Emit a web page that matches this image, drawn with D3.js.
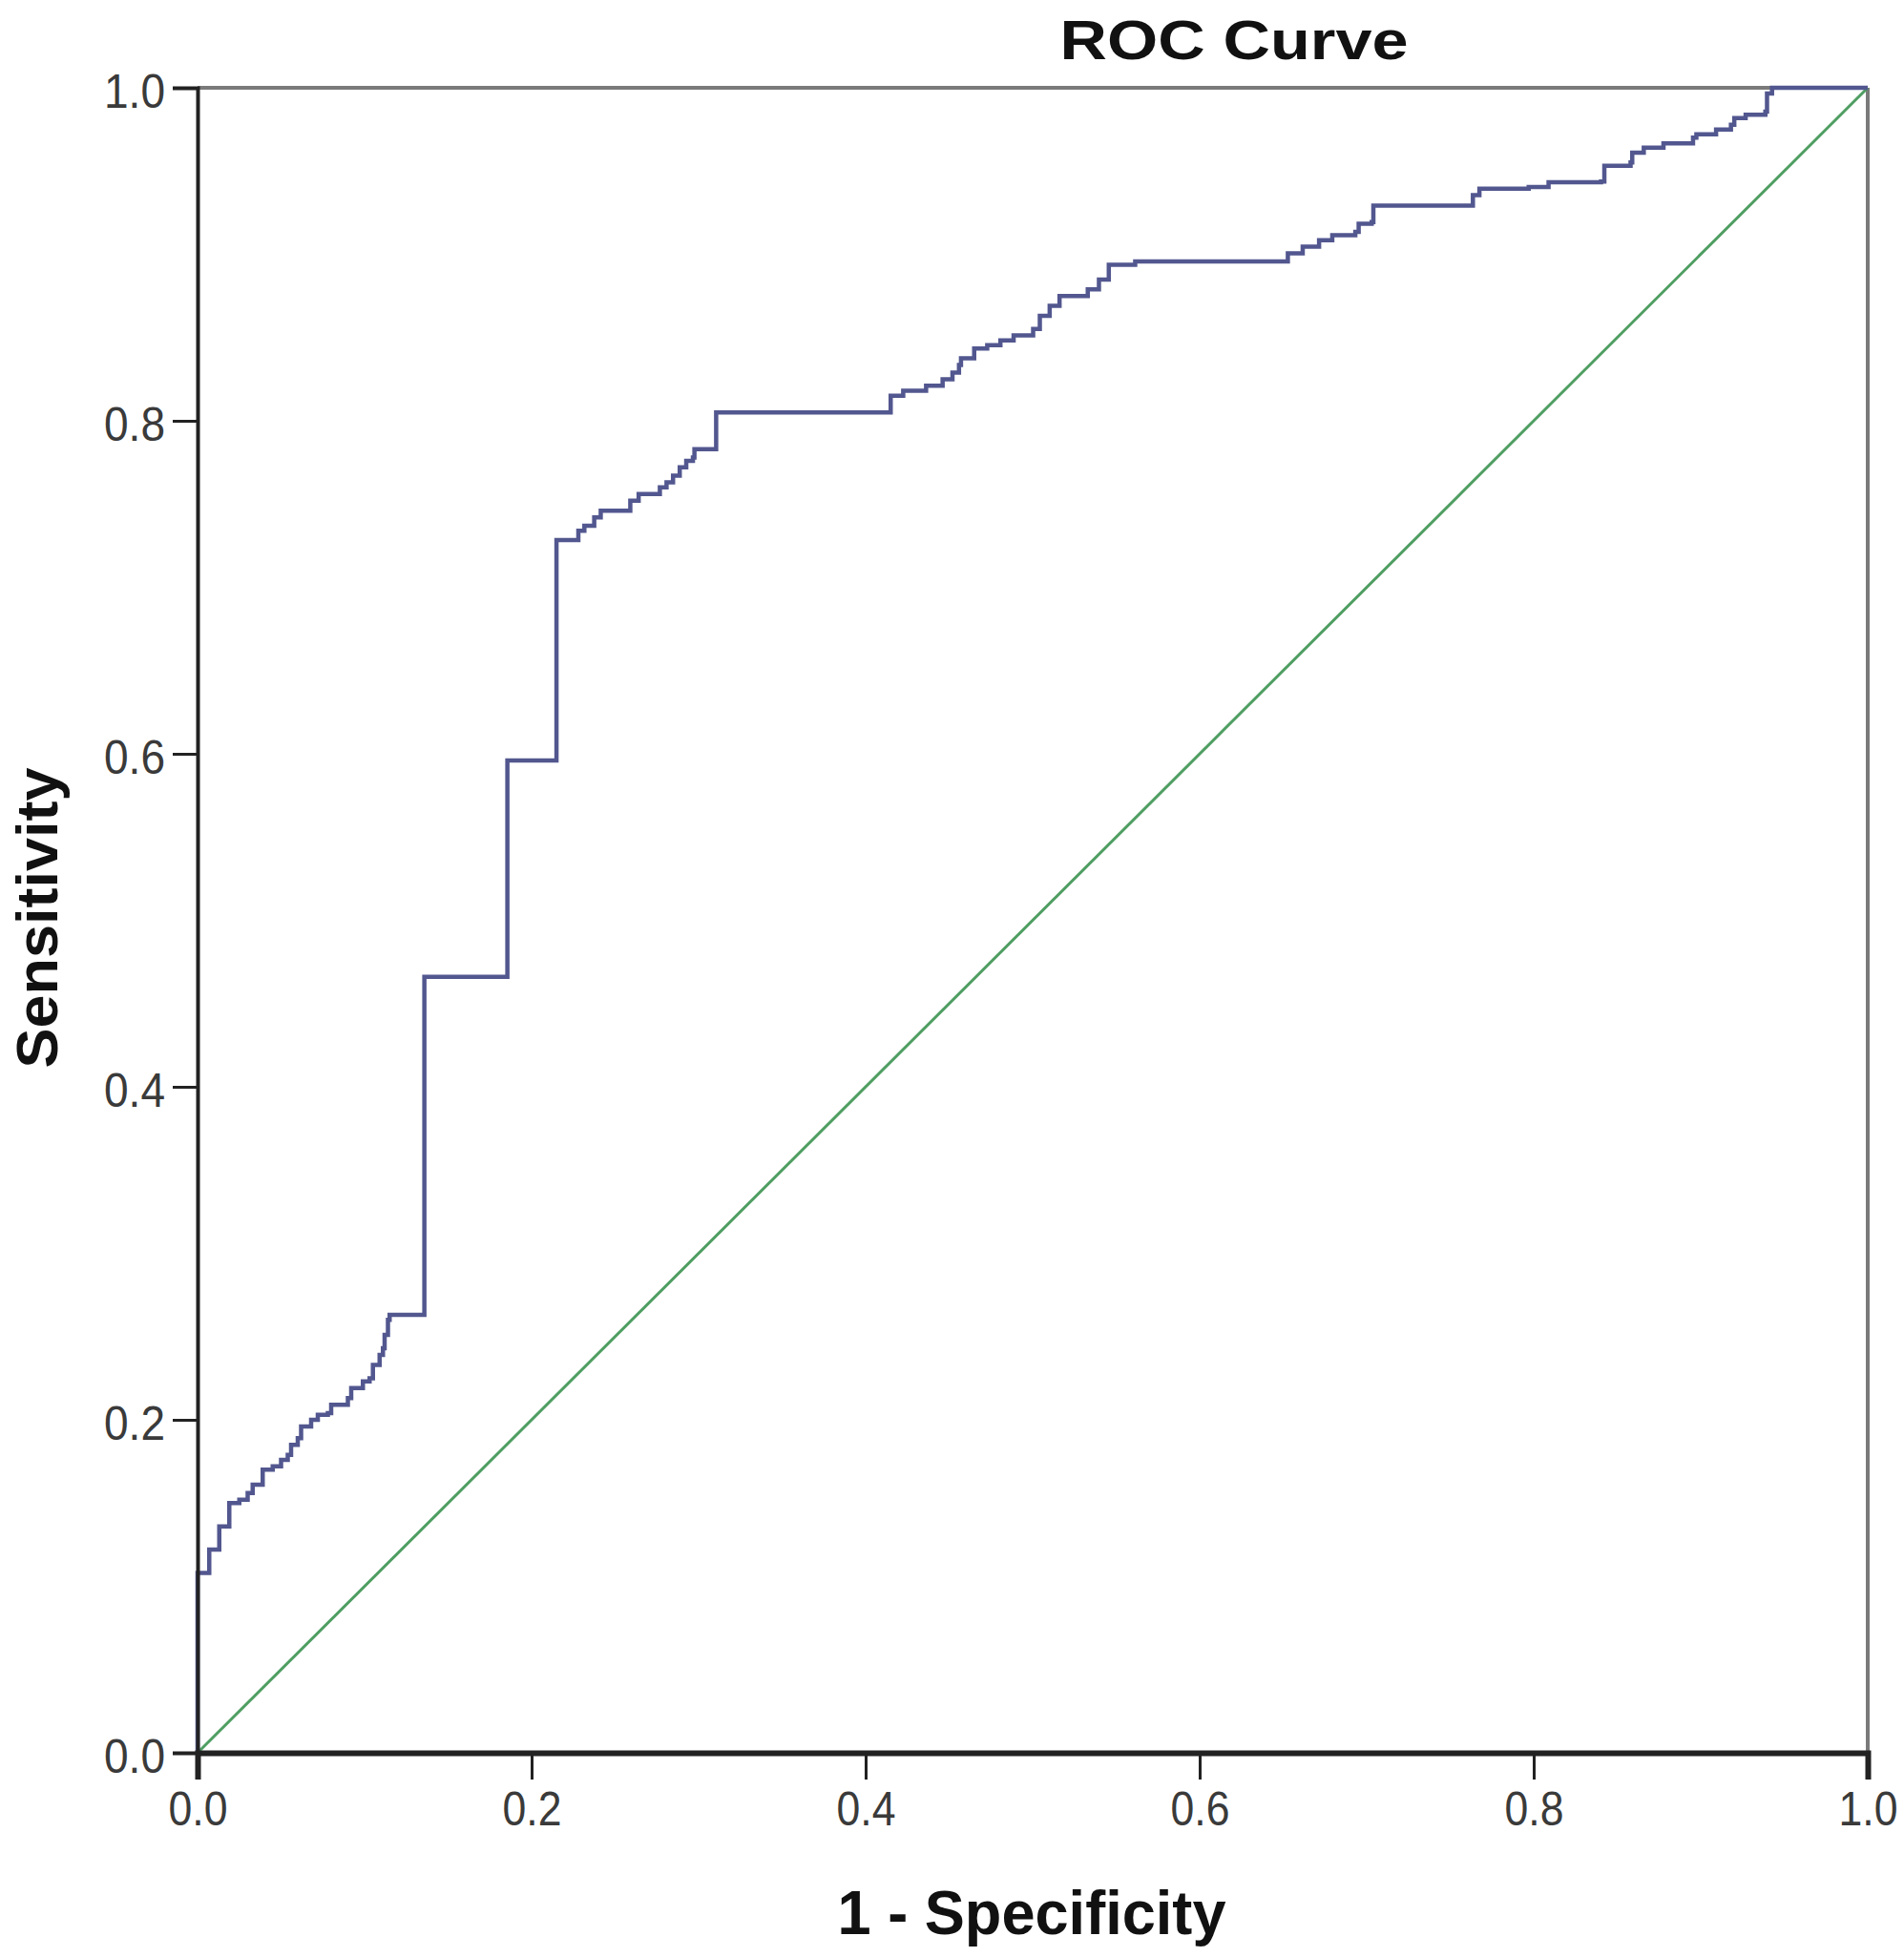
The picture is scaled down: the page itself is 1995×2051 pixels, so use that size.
<!DOCTYPE html>
<html>
<head>
<meta charset="utf-8">
<script src="https://cdn.jsdelivr.net/npm/d3@7/dist/d3.min.js"></script>
<style>
  html, body { margin: 0; padding: 0; background: #ffffff; }
  svg { display: block; }
</style>
</head>
<body>
<svg id="chart" width="1995" height="2051"></svg>
<script>
// ---- Data ----
const chartTitle = "ROC Curve";
const xAxisTitle = "1 - Specificity";
const yAxisTitle = "Sensitivity";
const tickValues = [0.0, 0.2, 0.4, 0.6, 0.8, 1.0];
const tickLabels = ["0.0", "0.2", "0.4", "0.6", "0.8", "1.0"];

// ROC vertices (1 - specificity, sensitivity), drawn as a step-after path
const rocFpr = [
  0.000, 0.000, 0.007, 0.013, 0.019, 0.025, 0.030, 0.033, 0.039, 0.045,
  0.050, 0.054, 0.056, 0.060, 0.062, 0.068, 0.072, 0.078, 0.080, 0.090,
  0.092, 0.099, 0.103, 0.105, 0.109, 0.111, 0.112, 0.114, 0.115, 0.1358,
  0.1358, 0.1855, 0.2149, 0.228, 0.2316, 0.2375, 0.2414, 0.2591, 0.2641, 0.2768,
  0.2808, 0.2847, 0.2887, 0.2926, 0.2966, 0.2975, 0.3105, 0.4150, 0.4225, 0.4362,
  0.4461, 0.4520, 0.4559, 0.4571, 0.4650, 0.4728, 0.4807, 0.4886, 0.5003, 0.5043,
  0.5102, 0.5161, 0.5330, 0.5397, 0.5456, 0.5614, 0.6528, 0.6617, 0.6715, 0.6794,
  0.6932, 0.6952, 0.7030, 0.7040, 0.7636, 0.7675, 0.7970, 0.8089, 0.8403, 0.8423,
  0.8580, 0.8590, 0.8659, 0.8777, 0.8954, 0.8974, 0.9092, 0.9181, 0.9201, 0.9269,
  0.9387, 0.9397, 0.9427, 1.000
];
const rocTpr = [
  0.000, 0.108, 0.122, 0.136, 0.150, 0.152, 0.156, 0.161, 0.170, 0.172,
  0.176, 0.179, 0.185, 0.189, 0.196, 0.200, 0.203, 0.204, 0.209, 0.213,
  0.219, 0.223, 0.225, 0.233, 0.239, 0.243, 0.251, 0.260, 0.263, 0.265,
  0.466, 0.596, 0.7284, 0.734, 0.737, 0.742, 0.746, 0.752, 0.756, 0.760,
  0.763, 0.767, 0.772, 0.776, 0.778, 0.783, 0.805, 0.815, 0.818, 0.821,
  0.825, 0.829, 0.8335, 0.8375, 0.8434, 0.8454, 0.8483, 0.8513, 0.8552, 0.8631,
  0.8690, 0.8749, 0.8790, 0.8848, 0.8937, 0.8957, 0.9006, 0.9046, 0.9085, 0.9115,
  0.9135, 0.9184, 0.9193, 0.9292, 0.9355, 0.9394, 0.9404, 0.9433, 0.9437, 0.9532,
  0.9552, 0.9611, 0.9640, 0.9666, 0.9700, 0.9720, 0.9749, 0.9778, 0.9818, 0.9838,
  0.9857, 0.9966, 1.000, 1.000
];
// reference (chance) line
const diagX = [0, 1];
const diagY = [0, 1];

(function () {
  // ---- Layout ----
  const pLeft = 207, pRight = 1957, pTop = 92, pBottom = 1837;
  const svg = d3.select("#chart");
  const x = d3.scaleLinear().domain([0, 1]).range([pLeft, pRight]);
  const y = d3.scaleLinear().domain([0, 1]).range([pBottom, pTop]);
  const font = "'Liberation Sans', Arial, sans-serif";

  // frame (top and right, gray)
  svg.append("line").attr("x1", pLeft).attr("x2", pRight).attr("y1", pTop).attr("y2", pTop)
    .attr("stroke", "#7a7a7a").attr("stroke-width", 4);
  svg.append("line").attr("x1", pRight).attr("x2", pRight).attr("y1", pTop).attr("y2", pBottom)
    .attr("stroke", "#7a7a7a").attr("stroke-width", 4);

  // diagonal reference line
  const diag = diagX.map((d, i) => [d, diagY[i]]);
  svg.append("path").datum(diag)
    .attr("d", d3.line().x(d => x(d[0])).y(d => y(d[1])))
    .attr("fill", "none").attr("stroke", "#4f9e62").attr("stroke-width", 3);

  // ROC curve
  const roc = rocFpr.map((d, i) => [d, rocTpr[i]]);
  svg.append("path").datum(roc)
    .attr("d", d3.line().x(d => x(d[0])).y(d => y(d[1])).curve(d3.curveStepAfter))
    .attr("fill", "none").attr("stroke", "#52578f").attr("stroke-width", 4.5)
    .attr("stroke-linejoin", "miter");

  // axes
  const xAxis = d3.axisBottom(x).tickValues(tickValues)
    .tickFormat((d, i) => tickLabels[i]).tickSize(28).tickPadding(12);
  const yAxis = d3.axisLeft(y).tickValues(tickValues)
    .tickFormat((d, i) => tickLabels[i]).tickSize(26).tickPadding(8);

  const gx = svg.append("g").attr("transform", `translate(0,${pBottom})`).call(xAxis);
  gx.select(".domain").attr("stroke", "#222").attr("stroke-width", 6);
  gx.selectAll(".tick line").attr("stroke", "#222").attr("stroke-width", 3);
  gx.selectAll(".tick text").attr("font-family", font).attr("font-size", 50)
    .attr("fill", "#3a3a3a").attr("dy", "0.71em")
    .attr("textLength", 62).attr("lengthAdjust", "spacingAndGlyphs");

  const gy = svg.append("g").attr("transform", `translate(${pLeft},0)`).call(yAxis);
  gy.select(".domain").attr("stroke", "#222").attr("stroke-width", 4);
  gy.selectAll(".tick line").attr("stroke", "#222").attr("stroke-width", 3);
  gy.selectAll(".tick text").attr("font-family", font).attr("font-size", 50)
    .attr("fill", "#3a3a3a").attr("dy", "0.40em")
    .attr("textLength", 64).attr("lengthAdjust", "spacingAndGlyphs");

  // titles
  svg.append("text").text(chartTitle)
    .attr("x", 1293).attr("y", 62).attr("text-anchor", "middle")
    .attr("font-family", font).attr("font-weight", "bold").attr("font-size", 58)
    .attr("textLength", 365).attr("lengthAdjust", "spacingAndGlyphs").attr("fill", "#111");

  svg.append("text").text(xAxisTitle)
    .attr("x", 1081).attr("y", 2027).attr("text-anchor", "middle")
    .attr("font-family", font).attr("font-weight", "bold").attr("font-size", 64)
    .attr("textLength", 407).attr("lengthAdjust", "spacingAndGlyphs").attr("fill", "#111");

  svg.append("text").text(yAxisTitle)
    .attr("transform", "translate(60,962) rotate(-90)").attr("text-anchor", "middle")
    .attr("font-family", font).attr("font-weight", "bold").attr("font-size", 62)
    .attr("textLength", 315).attr("lengthAdjust", "spacingAndGlyphs").attr("fill", "#111");
})();
</script>
</body>
</html>
